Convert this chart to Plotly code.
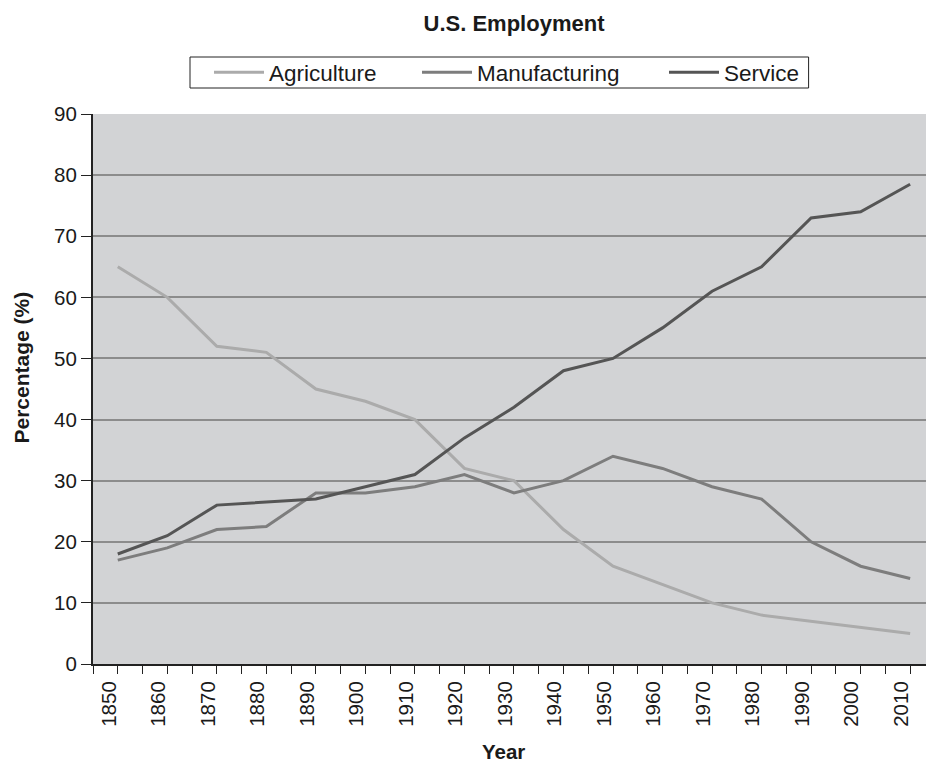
import plotly.graph_objects as go

years = [1850, 1860, 1870, 1880, 1890, 1900, 1910, 1920, 1930, 1940, 1950, 1960, 1970, 1980, 1990, 2000, 2010]
agriculture = [65, 60, 52, 51, 45, 43, 40, 32, 30, 22, 16, 13, 10, 8, 7, 6, 5]
manufacturing = [17, 19, 22, 22.5, 28, 28, 29, 31, 28, 30, 34, 32, 29, 27, 20, 16, 14]
service = [18, 21, 26, 26.5, 27, 29, 31, 37, 42, 48, 50, 55, 61, 65, 73, 74, 78.5]
y_ticks = [0, 10, 20, 30, 40, 50, 60, 70, 80, 90]

FONT = "Liberation Sans, Arial, sans-serif"
L, W = 93, 833          # plot left / width in px
B, H = 664, 550         # plot bottom / height in px

def px_x(p):
    return (p - L) / W

def px_y(p):
    return (B - p) / H

fig = go.Figure()
series = [
    ("Agriculture", agriculture, "#ababab", 143),
    ("Manufacturing", manufacturing, "#7d7d7d", 182),
    ("Service", service, "#555555", 80),
]
for name, vals, col, lw in series:
    fig.add_trace(go.Scatter(x=years, y=vals, name=name, mode="lines",
                             line=dict(color=col, width=3), legendwidth=lw))

label_shift = 1.8  # labels sit slightly left of their ticks in the reference

fig.update_layout(
    width=926, height=764,
    margin=dict(l=L, r=0, t=114, b=100),
    paper_bgcolor="white",
    plot_bgcolor="#d2d3d5",
    font=dict(family=FONT, size=20.5, color="#1a1a1a"),
    title=dict(text="<b>U.S. Employment</b>", x=514 / 926, xanchor="center",
               y=1 - 23 / 764, yanchor="middle",
               font=dict(size=22, color="#1a1a1a")),
    showlegend=True,
    legend=dict(orientation="h", x=px_x(209), xanchor="left", y=px_y(72.5), yanchor="middle",
                borderwidth=0, bgcolor="rgba(0,0,0,0)",
                font=dict(size=22.5), itemwidth=50, traceorder="normal"),
    shapes=[dict(type="rect", xref="paper", yref="paper",
                 x0=px_x(190), x1=px_x(808.6), y0=px_y(88), y1=px_y(57),
                 line=dict(color="#222222", width=1), fillcolor="white", layer="below")],
    xaxis=dict(range=[1845, 2013.2], tickmode="array",
               tickvals=[y - label_shift for y in years],
               ticktext=[str(y) for y in years], tickangle=-90,
               ticks="", ticklen=8, ticklabelstandoff=7,
               minor=dict(tickmode="linear", tick0=1845, dtick=5, ticks="outside",
                          ticklen=8, tickcolor="#222222", tickwidth=1, showgrid=False),
               showgrid=False, showline=True, linecolor="#222222", linewidth=2,
               zeroline=False, tickfont=dict(size=20.5)),
    yaxis=dict(range=[0, 90], tickmode="array", tickvals=y_ticks,
               ticks="outside", ticklen=10, tickcolor="#222222", tickwidth=1,
               showgrid=True, gridcolor="#8c8c8c", gridwidth=1.5,
               showline=True, linecolor="#222222", linewidth=2,
               zeroline=False, tickfont=dict(size=20.5)),
    annotations=[
        dict(text="<b>Percentage (%)</b>", xref="paper", yref="paper",
             x=px_x(21), y=px_y(367.5), xanchor="center", yanchor="middle",
             textangle=-90, showarrow=False, font=dict(size=21, color="#1a1a1a")),
        dict(text="<b>Year</b>", xref="paper", yref="paper",
             x=px_x(503), y=px_y(751), xanchor="center", yanchor="middle",
             showarrow=False, font=dict(size=20.5, color="#1a1a1a")),
    ],
)

fig.write_html("out.html")
